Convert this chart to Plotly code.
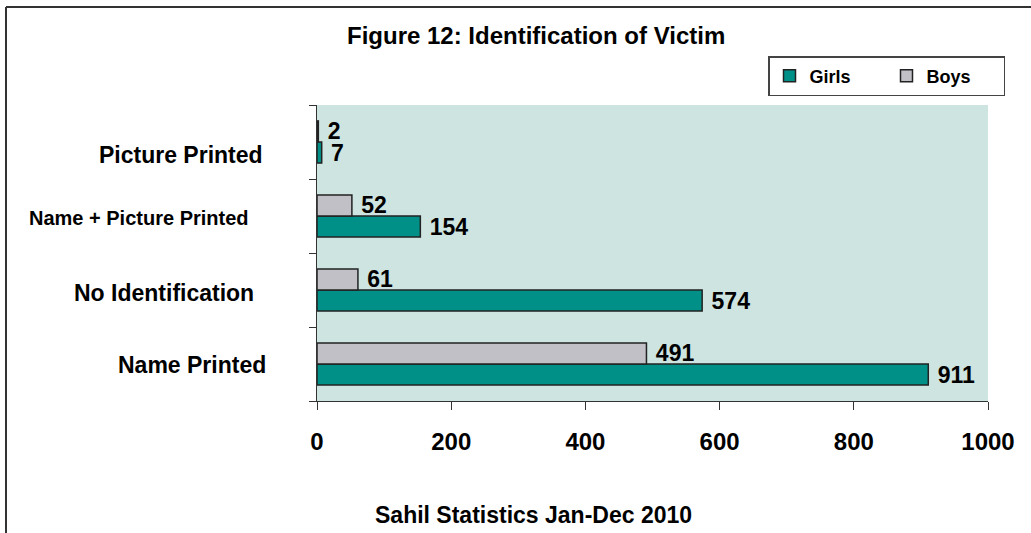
import plotly.graph_objects as go

# data
categories = ["Name Printed", "No Identification", "Name + Picture Printed", "Picture Printed"]
girls = [911, 574, 154, 7]
boys = [491, 61, 52, 2]
x_ticks = [0, 200, 400, 600, 800, 1000]

FONT = "Liberation Sans"


def px(xp):
    # pixel x -> paper x
    return (xp - 317) / 671


def py(yp):
    # pixel y -> paper y
    return (401 - yp) / 296


fig = go.Figure()

fig.add_trace(go.Bar(y=categories, x=girls, orientation='h', name='Girls',
                     marker=dict(color='#009088', line=dict(color='#222222', width=1.5)),
                     texttemplate='\u00a0%{x}', textposition='outside', cliponaxis=False,
                     constraintext='none',
                     textfont=dict(family=FONT, size=23, color='black', weight='bold')))
fig.add_trace(go.Bar(y=categories, x=boys, orientation='h', name='Boys',
                     marker=dict(color='#c0c0c6', line=dict(color='#222222', width=1.5)),
                     texttemplate='\u00a0%{x}', textposition='outside', cliponaxis=False,
                     constraintext='none',
                     textfont=dict(family=FONT, size=23, color='black', weight='bold')))

# category labels drawn as annotations so each can have its own size
label_size = {"Name + Picture Printed": 20}
label_right = {"Picture Printed": 265, "Name + Picture Printed": 251,
               "No Identification": 256, "Name Printed": 268}
label_shift = {"Picture Printed": -13, "Name + Picture Printed": -2,
               "No Identification": -3, "Name Printed": -1}
for c in categories:
    fig.add_annotation(x=px(label_right[c]), xref='paper', y=c, yref='y', text=c,
                       showarrow=False, xanchor='right', yanchor='middle', yshift=label_shift[c],
                       font=dict(family=FONT, size=label_size.get(c, 23), color='black', weight='bold'))

fig.add_annotation(xref='paper', yref='paper', x=px(536), y=py(35),
                   xanchor='center', yanchor='middle',
                   text='Figure 12: Identification of Victim', showarrow=False,
                   font=dict(family=FONT, size=24, color='black', weight='bold'))
fig.add_annotation(xref='paper', yref='paper', x=px(533), y=py(515),
                   xanchor='center', yanchor='middle',
                   text='Sahil Statistics Jan-Dec 2010', showarrow=False,
                   font=dict(family=FONT, size=23, color='black', weight='bold'))

# outer frame (left and top only visible)
fig.add_shape(type='line', xref='paper', yref='paper', x0=px(6), x1=px(6),
              y0=py(545), y1=py(7), line=dict(color='#333333', width=2))
fig.add_shape(type='line', xref='paper', yref='paper', x0=px(6), x1=px(1045),
              y0=py(7), y1=py(7), line=dict(color='#333333', width=2))

fig.update_layout(
    width=1031, height=533,
    margin=dict(l=317, r=43, t=105, b=132, autoexpand=False),
    plot_bgcolor='#cde4e0', paper_bgcolor='white',
    barmode='group', bargap=0.43, bargroupgap=0,
    font=dict(family=FONT, color='black'),
    showlegend=True,
    legend=dict(orientation='h', x=px(768), y=py(56),
                xanchor='left', yanchor='top', bgcolor='white',
                bordercolor='#444444', borderwidth=1.5,
                font=dict(family=FONT, size=18, color='black', weight='bold'),
                itemwidth=30, entrywidth=72, traceorder='normal'),
)
fig.update_xaxes(range=[0, 1000], tickvals=x_ticks,
                 showgrid=False, zeroline=False, showline=True, linecolor='#333333', linewidth=1,
                 ticks='outside', ticklen=8, tickcolor='#333333', ticklabelstandoff=11,
                 tickfont=dict(family=FONT, size=24, color='black', weight='bold'), fixedrange=True)
fig.update_yaxes(showgrid=False, showline=True, linecolor='#333333', linewidth=1,
                 ticks='outside', ticklen=7, tickcolor='#333333', tickson='boundaries',
                 showticklabels=False, categoryorder='array', categoryarray=categories)

fig.write_html("out.html", config={'displayModeBar': False},
               post_script="document.body.style.margin='0';")
